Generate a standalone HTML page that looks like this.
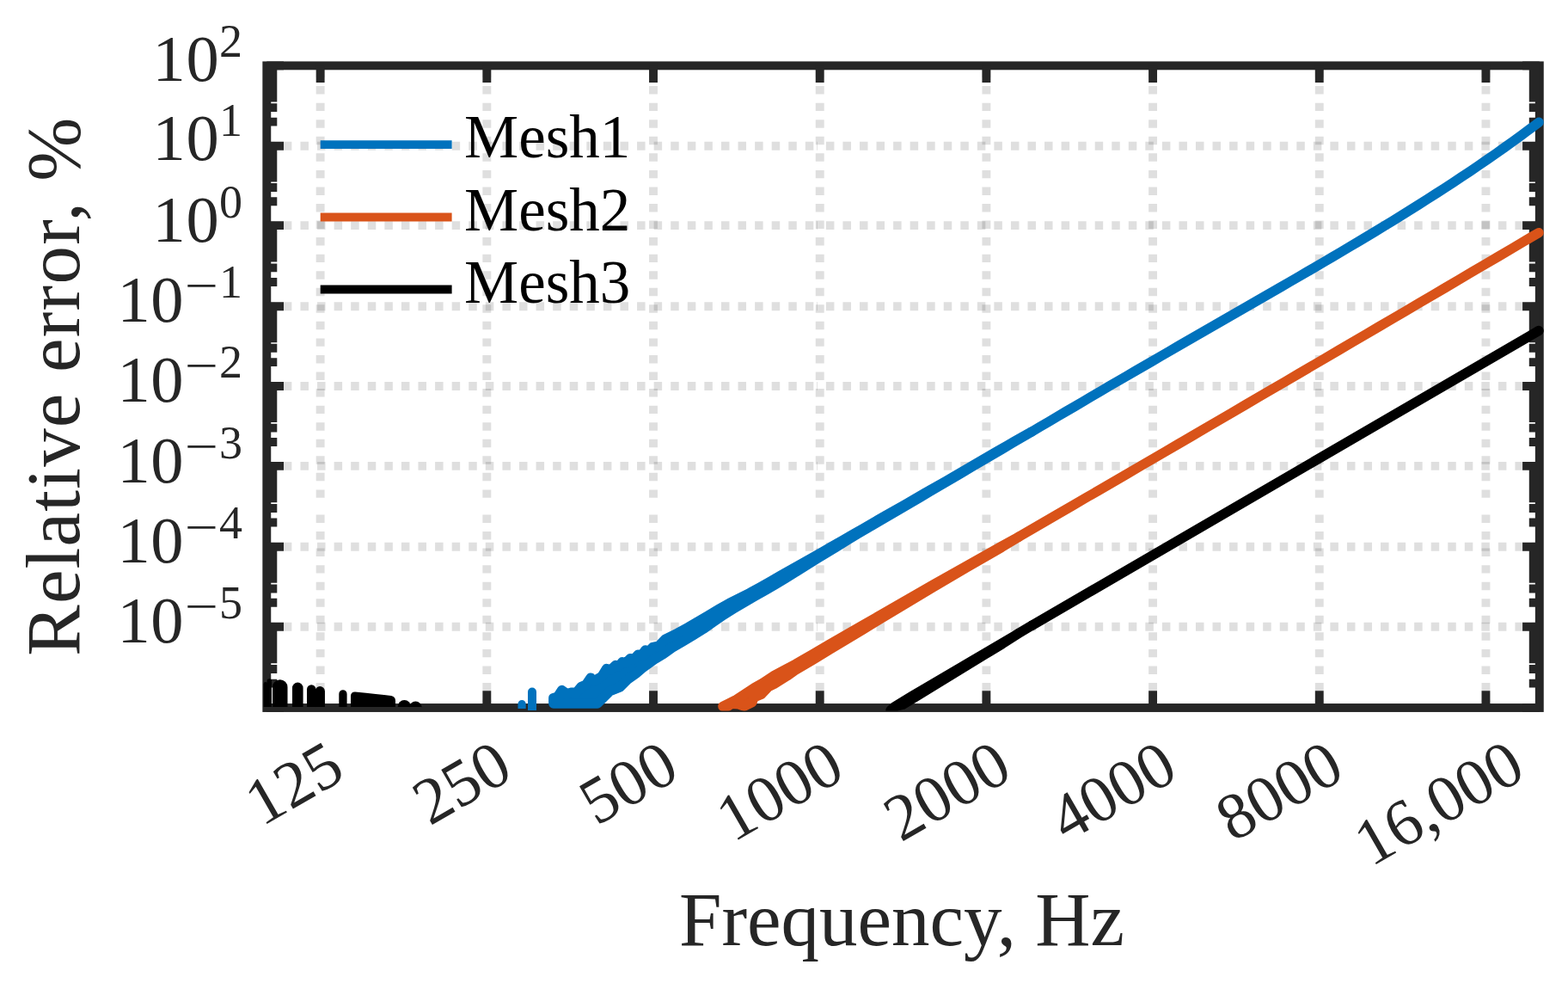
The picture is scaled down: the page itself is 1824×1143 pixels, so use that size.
<!DOCTYPE html><html><head><meta charset="utf-8"><title>Relative error vs frequency</title><style>html,body{margin:0;padding:0;background:#fff;}svg{display:block;}text{font-family:"Liberation Serif","DejaVu Serif",serif;}</style></head><body>
<svg width="1824" height="1143" viewBox="0 0 1824 1143">
<rect width="1824" height="1143" fill="#fff"/>
<g stroke="#262626" stroke-opacity="0.15" stroke-width="9.9" fill="none">
<line x1="372.65" y1="823.0" x2="372.65" y2="588.6" stroke-dasharray="9.45 10.1"/>
<line x1="372.65" y1="76.35" x2="372.65" y2="588.6" stroke-dasharray="9.45 10.104" stroke-dashoffset="15.35"/>
<line x1="566.34" y1="823.0" x2="566.34" y2="588.6" stroke-dasharray="9.45 10.1"/>
<line x1="566.34" y1="76.35" x2="566.34" y2="588.6" stroke-dasharray="9.45 10.104" stroke-dashoffset="15.35"/>
<line x1="760.02" y1="823.0" x2="760.02" y2="588.6" stroke-dasharray="9.45 10.1"/>
<line x1="760.02" y1="76.35" x2="760.02" y2="588.6" stroke-dasharray="9.45 10.104" stroke-dashoffset="15.35"/>
<line x1="953.71" y1="823.0" x2="953.71" y2="588.6" stroke-dasharray="9.45 10.1"/>
<line x1="953.71" y1="76.35" x2="953.71" y2="588.6" stroke-dasharray="9.45 10.104" stroke-dashoffset="15.35"/>
<line x1="1147.39" y1="823.0" x2="1147.39" y2="588.6" stroke-dasharray="9.45 10.1"/>
<line x1="1147.39" y1="76.35" x2="1147.39" y2="588.6" stroke-dasharray="9.45 10.104" stroke-dashoffset="15.35"/>
<line x1="1341.08" y1="823.0" x2="1341.08" y2="588.6" stroke-dasharray="9.45 10.1"/>
<line x1="1341.08" y1="76.35" x2="1341.08" y2="588.6" stroke-dasharray="9.45 10.104" stroke-dashoffset="15.35"/>
<line x1="1534.76" y1="823.0" x2="1534.76" y2="588.6" stroke-dasharray="9.45 10.1"/>
<line x1="1534.76" y1="76.35" x2="1534.76" y2="588.6" stroke-dasharray="9.45 10.104" stroke-dashoffset="15.35"/>
<line x1="1728.45" y1="823.0" x2="1728.45" y2="588.6" stroke-dasharray="9.45 10.1"/>
<line x1="1728.45" y1="76.35" x2="1728.45" y2="588.6" stroke-dasharray="9.45 10.104" stroke-dashoffset="15.35"/>
<line x1="310.3" y1="728.80" x2="950.0" y2="728.80" stroke-dasharray="9.5 10.08"/>
<line x1="950.0" y1="728.80" x2="1790.8" y2="728.80" stroke-dasharray="9.5 10.05" stroke-dashoffset="8.65"/>
<line x1="310.3" y1="635.80" x2="950.0" y2="635.80" stroke-dasharray="9.5 10.08"/>
<line x1="950.0" y1="635.80" x2="1790.8" y2="635.80" stroke-dasharray="9.5 10.05" stroke-dashoffset="8.65"/>
<line x1="310.3" y1="541.90" x2="950.0" y2="541.90" stroke-dasharray="9.5 10.08"/>
<line x1="950.0" y1="541.90" x2="1790.8" y2="541.90" stroke-dasharray="9.5 10.05" stroke-dashoffset="8.65"/>
<line x1="310.3" y1="449.05" x2="950.0" y2="449.05" stroke-dasharray="9.5 10.08"/>
<line x1="950.0" y1="449.05" x2="1790.8" y2="449.05" stroke-dasharray="9.5 10.05" stroke-dashoffset="8.65"/>
<line x1="310.3" y1="356.30" x2="950.0" y2="356.30" stroke-dasharray="9.5 10.08"/>
<line x1="950.0" y1="356.30" x2="1790.8" y2="356.30" stroke-dasharray="9.5 10.05" stroke-dashoffset="8.65"/>
<line x1="310.3" y1="262.10" x2="950.0" y2="262.10" stroke-dasharray="9.5 10.08"/>
<line x1="950.0" y1="262.10" x2="1790.8" y2="262.10" stroke-dasharray="9.5 10.05" stroke-dashoffset="8.65"/>
<line x1="310.3" y1="169.70" x2="950.0" y2="169.70" stroke-dasharray="9.5 10.08"/>
<line x1="950.0" y1="169.70" x2="1790.8" y2="169.70" stroke-dasharray="9.5 10.05" stroke-dashoffset="8.65"/>
</g>
<g stroke="#262626" stroke-width="9.9" fill="none" stroke-linecap="butt">
<rect x="310.3" y="76.35" width="1480.50" height="746.65" stroke-linejoin="miter"/>
<path d="M372.65 823.0V803.30M372.65 76.35V96.05M566.34 823.0V803.30M566.34 76.35V96.05M760.02 823.0V803.30M760.02 76.35V96.05M953.71 823.0V803.30M953.71 76.35V96.05M1147.39 823.0V803.30M1147.39 76.35V96.05M1341.08 823.0V803.30M1341.08 76.35V96.05M1534.76 823.0V803.30M1534.76 76.35V96.05M1728.45 823.0V803.30M1728.45 76.35V96.05M310.3 823.00H330.00M1790.8 823.00H1771.10M310.3 794.64H322.30M1790.8 794.64H1778.80M310.3 778.06H322.30M1790.8 778.06H1778.80M310.3 766.29H322.30M1790.8 766.29H1778.80M310.3 757.16H322.30M1790.8 757.16H1778.80M310.3 749.70H322.30M1790.8 749.70H1778.80M310.3 743.39H322.30M1790.8 743.39H1778.80M310.3 737.93H322.30M1790.8 737.93H1778.80M310.3 733.11H322.30M1790.8 733.11H1778.80M310.3 728.80H330.00M1790.8 728.80H1771.10M310.3 700.80H322.30M1790.8 700.80H1778.80M310.3 684.43H322.30M1790.8 684.43H1778.80M310.3 672.81H322.30M1790.8 672.81H1778.80M310.3 663.80H322.30M1790.8 663.80H1778.80M310.3 656.43H322.30M1790.8 656.43H1778.80M310.3 650.21H322.30M1790.8 650.21H1778.80M310.3 644.81H322.30M1790.8 644.81H1778.80M310.3 640.06H322.30M1790.8 640.06H1778.80M310.3 635.80H330.00M1790.8 635.80H1771.10M310.3 607.53H322.30M1790.8 607.53H1778.80M310.3 591.00H322.30M1790.8 591.00H1778.80M310.3 579.27H322.30M1790.8 579.27H1778.80M310.3 570.17H322.30M1790.8 570.17H1778.80M310.3 562.73H322.30M1790.8 562.73H1778.80M310.3 556.45H322.30M1790.8 556.45H1778.80M310.3 551.00H322.30M1790.8 551.00H1778.80M310.3 546.20H322.30M1790.8 546.20H1778.80M310.3 541.90H330.00M1790.8 541.90H1771.10M310.3 513.95H322.30M1790.8 513.95H1778.80M310.3 497.60H322.30M1790.8 497.60H1778.80M310.3 486.00H322.30M1790.8 486.00H1778.80M310.3 477.00H322.30M1790.8 477.00H1778.80M310.3 469.65H322.30M1790.8 469.65H1778.80M310.3 463.43H322.30M1790.8 463.43H1778.80M310.3 458.05H322.30M1790.8 458.05H1778.80M310.3 453.30H322.30M1790.8 453.30H1778.80M310.3 449.05H330.00M1790.8 449.05H1771.10M310.3 421.13H322.30M1790.8 421.13H1778.80M310.3 404.80H322.30M1790.8 404.80H1778.80M310.3 393.21H322.30M1790.8 393.21H1778.80M310.3 384.22H322.30M1790.8 384.22H1778.80M310.3 376.88H322.30M1790.8 376.88H1778.80M310.3 370.67H322.30M1790.8 370.67H1778.80M310.3 365.29H322.30M1790.8 365.29H1778.80M310.3 360.54H322.30M1790.8 360.54H1778.80M310.3 356.30H330.00M1790.8 356.30H1771.10M310.3 327.94H322.30M1790.8 327.94H1778.80M310.3 311.36H322.30M1790.8 311.36H1778.80M310.3 299.59H322.30M1790.8 299.59H1778.80M310.3 290.46H322.30M1790.8 290.46H1778.80M310.3 283.00H322.30M1790.8 283.00H1778.80M310.3 276.69H322.30M1790.8 276.69H1778.80M310.3 271.23H322.30M1790.8 271.23H1778.80M310.3 266.41H322.30M1790.8 266.41H1778.80M310.3 262.10H330.00M1790.8 262.10H1771.10M310.3 234.28H322.30M1790.8 234.28H1778.80M310.3 218.01H322.30M1790.8 218.01H1778.80M310.3 206.47H322.30M1790.8 206.47H1778.80M310.3 197.52H322.30M1790.8 197.52H1778.80M310.3 190.20H322.30M1790.8 190.20H1778.80M310.3 184.01H322.30M1790.8 184.01H1778.80M310.3 178.65H322.30M1790.8 178.65H1778.80M310.3 173.93H322.30M1790.8 173.93H1778.80M310.3 169.70H330.00M1790.8 169.70H1771.10M310.3 141.60H322.30M1790.8 141.60H1778.80M310.3 125.16H322.30M1790.8 125.16H1778.80M310.3 113.50H322.30M1790.8 113.50H1778.80M310.3 104.45H322.30M1790.8 104.45H1778.80M310.3 97.06H322.30M1790.8 97.06H1778.80M310.3 90.81H322.30M1790.8 90.81H1778.80M310.3 85.40H322.30M1790.8 85.40H1778.80M310.3 80.62H322.30M1790.8 80.62H1778.80M310.3 76.35H330.00M1790.8 76.35H1771.10"/>
</g>
<defs><clipPath id="cb"><rect x="300" y="60" width="1510" height="766.5"/></clipPath></defs>
<g clip-path="url(#cb)">
<polygon points="643.8,811.7 648.7,810.1 653.6,802.5 659.5,806.8 665.5,805.1 670.8,804.9 676.0,798.6 681.5,796.4 687.1,788.1 691.0,791.8 695.0,789.4 700.2,786.5 705.5,777.6 710.8,778.6 716.0,773.6 720.0,774.7 723.9,769.7 728.5,770.7 733.0,765.7 737.6,766.5 742.2,761.2 746.5,761.6 750.8,755.9 755.0,757.2 759.3,752.6 766.5,751.0 773.7,743.4 788.0,736.3 800.0,729.7 812.0,722.7 824.0,715.6 836.0,708.5 848.0,701.6 860.0,695.5 872.0,689.6 884.0,682.9 896.0,676.1 908.0,669.3 920.0,662.5 932.0,655.8 944.0,649.1 956.0,642.2 968.0,635.3 980.0,628.4 992.0,621.5 1004.0,614.6 1016.0,607.7 1028.0,600.8 1040.0,593.9 1052.0,587.1 1064.0,580.2 1076.0,573.3 1088.0,566.4 1100.0,559.6 1112.0,552.6 1124.0,545.7 1136.0,538.7 1148.0,531.7 1160.0,524.8 1172.0,517.8 1184.0,510.9 1200.0,502.1 1200.0,502.1 1178.0,514.9 1166.0,522.0 1154.0,529.1 1142.0,536.1 1130.0,543.2 1118.0,550.3 1106.0,557.4 1094.0,564.4 1082.0,571.4 1070.0,578.5 1058.0,585.5 1046.0,592.6 1034.0,599.6 1022.0,606.6 1010.0,613.7 998.0,620.7 986.0,628.0 974.0,635.3 962.0,642.6 950.0,649.9 938.0,657.3 926.0,665.0 914.0,672.3 902.0,679.5 890.0,686.5 878.0,693.3 866.0,700.3 854.0,707.4 842.0,714.8 830.0,723.1 818.0,731.5 806.0,739.0 794.0,746.2 782.0,753.2 771.1,760.9 762.0,766.2 747.5,776.7 739.6,783.3 730.4,789.8 721.2,799.0 709.4,803.6 695.0,818.0 643.8,818.0" fill="#0072BD" stroke="#0072BD" stroke-width="11.4" stroke-linejoin="round"/>
<g fill="#0072BD"><path d="M602.5 824V818.5a4.6 4.6 0 0 1 9.2 0V824Z M614 826V804.5a5 5 0 0 1 10 0V826Z"/></g>
<polyline points="1200.0,502.1 1210.0,496.2 1220.0,490.3 1230.0,484.4 1240.0,478.5 1250.0,472.7 1260.0,466.8 1270.0,460.9 1280.0,455.1 1290.0,449.2 1300.0,443.4 1310.0,437.6 1320.0,431.8 1330.0,426.0 1340.0,420.2 1350.0,414.4 1360.0,408.6 1370.0,402.8 1380.0,397.0 1390.0,391.3 1400.0,385.5 1410.0,379.8 1420.0,374.0 1430.0,368.3 1440.0,362.5 1450.0,356.8 1460.0,351.0 1470.0,345.2 1480.0,339.5 1490.0,333.7 1500.1,327.9 1510.1,322.1 1520.1,316.3 1530.1,310.5 1540.1,304.6 1550.1,298.8 1560.1,292.9 1570.1,286.9 1580.1,281.0 1590.1,275.0 1600.1,269.0 1610.1,262.9 1620.1,256.8 1630.1,250.6 1640.1,244.4 1650.1,238.1 1660.1,231.8 1670.1,225.4 1680.1,219.0 1690.1,212.4 1700.1,205.8 1710.1,199.2 1720.1,192.4 1730.1,185.5 1740.1,178.6 1750.1,171.5 1760.1,164.4 1770.1,157.1 1780.1,149.7 1790.1,142.2" fill="none" stroke="#0072BD" stroke-width="11.4" stroke-linecap="round" stroke-linejoin="round"/>
<polygon points="840.9,821.4 846.0,818.9 856.5,813.5 865.7,807.5 877.5,799.8 887.3,794.3 900.5,785.6 910.3,780.3 925.0,772.4 945.0,760.9 965.0,749.2 985.0,737.6 1005.0,726.1 1025.0,714.7 1045.0,703.2 1065.0,691.8 1085.0,680.3 1105.0,668.9 1125.0,657.7 1145.0,646.4 1165.0,635.1 1185.0,624.3 1185.0,624.3 1165.0,636.5 1145.0,648.1 1125.0,659.6 1105.0,671.2 1085.0,683.1 1065.0,695.1 1045.0,707.2 1025.0,719.2 1005.0,731.3 985.0,743.4 965.0,755.4 945.0,767.5 925.0,779.4 915.6,786.0 900.5,795.3 893.9,798.5 885.4,807.5 877.5,810.6 874.9,816.6 865.7,821.2 859.1,818.9 851.2,818.3 846.7,821.2 840.9,821.4" fill="#D95319" stroke="#D95319" stroke-width="11.4" stroke-linejoin="round"/>
<polyline points="1185.0,624.3 1200.5,615.3 1216.0,606.3 1231.5,597.3 1247.1,588.3 1262.6,579.2 1278.1,570.2 1293.6,561.2 1309.1,552.2 1324.6,543.1 1340.1,534.1 1355.6,525.1 1371.2,516.0 1386.7,507.0 1402.2,497.9 1417.7,488.9 1433.2,479.8 1448.7,470.8 1464.2,461.7 1479.7,452.6 1495.3,443.6 1510.8,434.5 1526.3,425.4 1541.8,416.3 1557.3,407.3 1572.8,398.2 1588.3,389.1 1603.8,380.0 1619.4,370.9 1634.9,361.8 1650.4,352.7 1665.9,343.6 1681.4,334.5 1696.9,325.4 1712.4,316.2 1727.9,307.1 1743.5,298.0 1759.0,288.9 1774.5,279.7 1790.0,270.6" fill="none" stroke="#D95319" stroke-width="11.4" stroke-linecap="round" stroke-linejoin="round"/>
<polygon points="1036.0,826.0 1040.5,821.8 1060.5,809.7 1080.5,797.9 1100.5,786.1 1120.5,774.4 1140.5,762.6 1160.5,750.8 1180.5,739.1 1200.5,727.2 1185.7,735.9 1165.7,748.8 1145.7,761.0 1125.7,773.2 1105.7,785.4 1085.7,797.5 1065.7,809.8 1050.0,819.3 1042.8,820.9" fill="#000000" stroke="#000000" stroke-width="11.4" stroke-linejoin="round"/>
<polyline points="1200.5,727.2 1790,384.5" fill="none" stroke="#000000" stroke-width="11.4" stroke-linecap="round"/>
<g fill="#000000">
<path d="M306.6 822V795.3A2.30 2.30 0 0 1 311.2 795.3V822Z"/>
<path d="M310.6 822V791.9A2.70 2.70 0 0 1 316.0 791.9V822Z"/>
<path d="M317.0 822V799.0A8.75 8.75 0 0 1 334.5 799.0V822Z"/>
<path d="M340.0 822V799.9A6.30 6.30 0 0 1 352.6 799.9V822Z"/>
<path d="M357.0 822V801.5A5.25 5.25 0 0 1 367.5 801.5V822Z"/>
<path d="M366.5 822V803.7A5.70 5.70 0 0 1 377.9 803.7V822Z"/>
<path d="M394.3 822V806.9A4.65 4.65 0 0 1 403.6 806.9V822Z"/>
<path d="M462.8 822V821.5A7.60 7.60 0 0 1 478.0 821.5V822Z"/>
<path d="M476.0 822V822.9A7.40 7.40 0 0 1 490.8 822.9V822Z"/>
<path d="M408 822V809.5Q408 804.5 413 804.5Q440 807 455 809Q460 810 460 815V822Z"/>
</g>
</g>
<line x1="372.7" y1="168.1" x2="525.6" y2="168.1" stroke="#0072BD" stroke-width="9.9"/>
<line x1="372.7" y1="252.5" x2="525.6" y2="252.5" stroke="#D95319" stroke-width="9.9"/>
<line x1="372.7" y1="336.5" x2="525.6" y2="336.5" stroke="#000000" stroke-width="9.9"/>
<text x="540" y="183.2" font-size="71" fill="#000">Mesh1</text>
<text x="540" y="267.8" font-size="71" fill="#000">Mesh2</text>
<text x="540" y="352.4" font-size="71" fill="#000">Mesh3</text>
<text y="94.00" font-size="76.5" fill="#262626"><tspan x="177.58" letter-spacing="0.6">10</tspan><tspan x="255.00" y="66.00" font-size="54">2</tspan></text>
<text y="186.20" font-size="76.5" fill="#262626"><tspan x="177.58" letter-spacing="0.6">10</tspan><tspan x="255.00" y="158.20" font-size="54">1</tspan></text>
<text y="280.80" font-size="76.5" fill="#262626"><tspan x="177.58" letter-spacing="0.6">10</tspan><tspan x="255.00" y="252.80" font-size="54">0</tspan></text>
<text y="373.90" font-size="76.5" fill="#262626"><tspan x="136.38" letter-spacing="0.6">10</tspan><tspan x="214.81" y="350.23" font-size="54" textLength="38.98" lengthAdjust="spacingAndGlyphs">&#8722;</tspan><tspan x="255.00" y="345.90" font-size="54">1</tspan></text>
<text y="467.00" font-size="76.5" fill="#262626"><tspan x="136.38" letter-spacing="0.6">10</tspan><tspan x="214.81" y="443.33" font-size="54" textLength="38.98" lengthAdjust="spacingAndGlyphs">&#8722;</tspan><tspan x="255.00" y="439.00" font-size="54">2</tspan></text>
<text y="560.80" font-size="76.5" fill="#262626"><tspan x="136.38" letter-spacing="0.6">10</tspan><tspan x="214.81" y="537.13" font-size="54" textLength="38.98" lengthAdjust="spacingAndGlyphs">&#8722;</tspan><tspan x="255.00" y="532.80" font-size="54">3</tspan></text>
<text y="654.40" font-size="76.5" fill="#262626"><tspan x="136.38" letter-spacing="0.6">10</tspan><tspan x="214.81" y="630.73" font-size="54" textLength="38.98" lengthAdjust="spacingAndGlyphs">&#8722;</tspan><tspan x="255.00" y="626.40" font-size="54">4</tspan></text>
<text y="747.00" font-size="76.5" fill="#262626"><tspan x="136.38" letter-spacing="0.6">10</tspan><tspan x="214.81" y="723.33" font-size="54" textLength="38.98" lengthAdjust="spacingAndGlyphs">&#8722;</tspan><tspan x="255.00" y="719.00" font-size="54">5</tspan></text>
<text transform="translate(378.15 858.90) rotate(-30)" font-size="76.5" fill="#262626" text-anchor="end" dy="0.68em">125</text>
<text transform="translate(573.34 858.30) rotate(-30)" font-size="76.5" fill="#262626" text-anchor="end" dy="0.68em">250</text>
<text transform="translate(767.02 858.40) rotate(-30)" font-size="76.5" fill="#262626" text-anchor="end" dy="0.68em">500</text>
<text transform="translate(959.51 858.20) rotate(-30)" font-size="76.5" fill="#262626" text-anchor="end" dy="0.68em">1000</text>
<text transform="translate(1154.39 858.20) rotate(-30)" font-size="76.5" fill="#262626" text-anchor="end" dy="0.68em">2000</text>
<text transform="translate(1347.08 858.50) rotate(-30)" font-size="76.5" fill="#262626" text-anchor="end" dy="0.68em">4000</text>
<text transform="translate(1540.86 858.30) rotate(-30)" font-size="76.5" fill="#262626" text-anchor="end" dy="0.68em">8000</text>
<text transform="translate(1751.25 857.90) rotate(-30)" font-size="76.5" fill="#262626" text-anchor="end" dy="0.68em">16,000</text>
<text x="1049" y="1099.2" font-size="89" fill="#262626" text-anchor="middle">Frequency, Hz</text>
<text transform="translate(91.7 449.6) rotate(-90)" font-size="89" fill="#262626" text-anchor="middle" textLength="626.2" lengthAdjust="spacing">Relative error, %</text>
</svg></body></html>
